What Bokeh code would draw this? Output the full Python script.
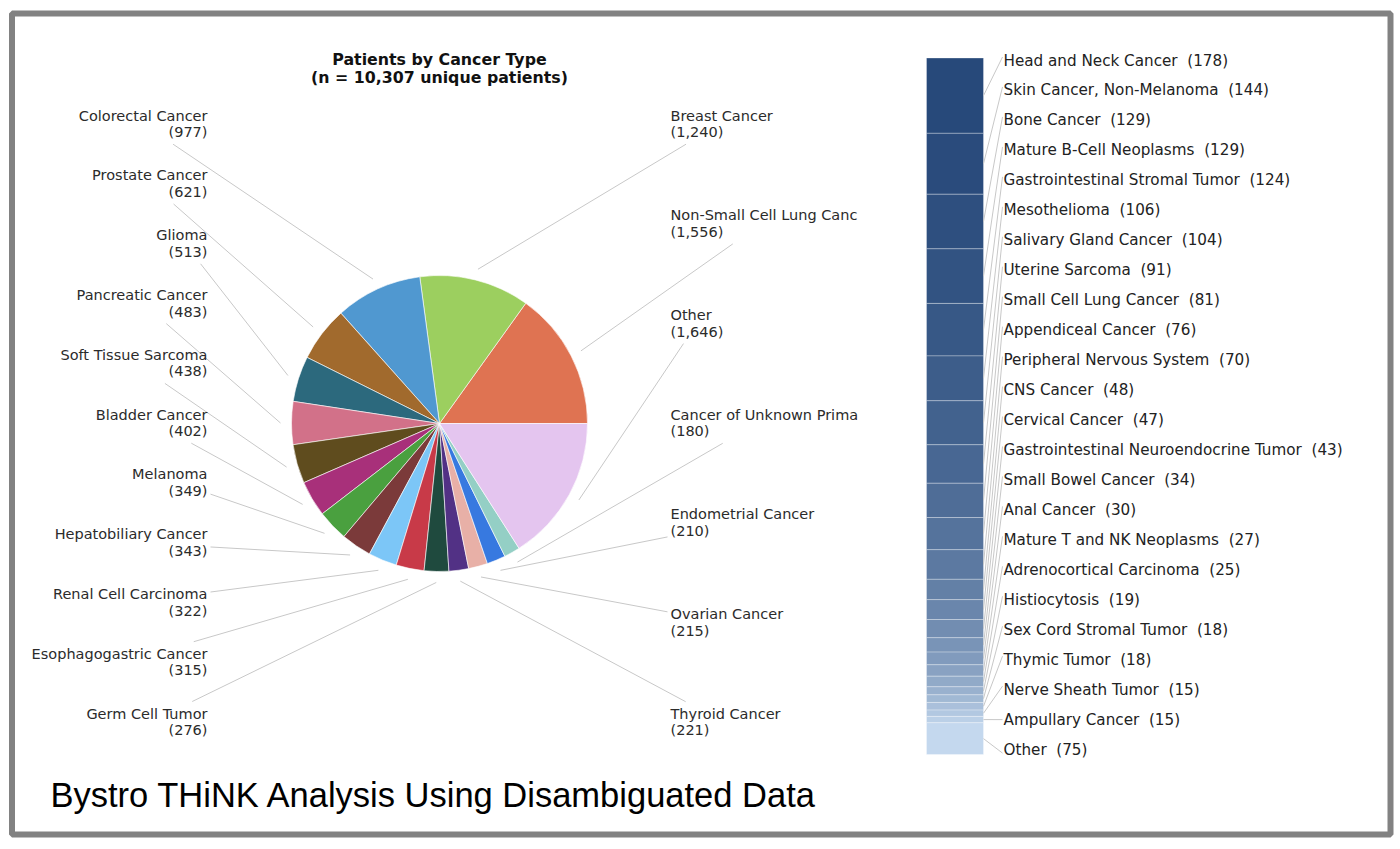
import numpy as np
from bokeh.plotting import figure
from bokeh.models import Range1d, ColumnDataSource
from bokeh.embed import file_html
from bokeh.resources import INLINE
from bokeh.core.properties import value

W, H = 1400, 849

# ---------------- data ----------------
# pie slices, counterclockwise from 3 o'clock
pie_names = ["Non-Small Cell Lung Canc", "Breast Cancer", "Colorectal Cancer", "Prostate Cancer",
             "Glioma", "Pancreatic Cancer", "Soft Tissue Sarcoma", "Bladder Cancer", "Melanoma",
             "Hepatobiliary Cancer", "Renal Cell Carcinoma", "Esophagogastric Cancer",
             "Germ Cell Tumor", "Thyroid Cancer", "Ovarian Cancer", "Endometrial Cancer",
             "Cancer of Unknown Prima", "Other"]
pie_counts = [1556, 1240, 977, 621, 513, 483, 438, 402, 349, 343, 322, 315, 276, 221, 215, 210, 180, 1646]
pie_colors = ["#df7352", "#9ccf5f", "#5098d0", "#a16a2d", "#2c697d", "#d27189", "#5f4c1e",
              "#a8307a", "#4aa03f", "#7b3a3a", "#7cc6f7", "#c83a48", "#1f4a3e", "#523185",
              "#e8b0a7", "#3779e0", "#94cfc5", "#e4c5ef"]

# breakdown of "Other" (top to bottom)
other_names = ["Head and Neck Cancer", "Skin Cancer, Non-Melanoma", "Bone Cancer",
               "Mature B-Cell Neoplasms", "Gastrointestinal Stromal Tumor", "Mesothelioma",
               "Salivary Gland Cancer", "Uterine Sarcoma", "Small Cell Lung Cancer",
               "Appendiceal Cancer", "Peripheral Nervous System", "CNS Cancer", "Cervical Cancer",
               "Gastrointestinal Neuroendocrine Tumor", "Small Bowel Cancer", "Anal Cancer",
               "Mature T and NK Neoplasms", "Adrenocortical Carcinoma", "Histiocytosis",
               "Sex Cord Stromal Tumor", "Thymic Tumor", "Nerve Sheath Tumor", "Ampullary Cancer",
               "Other"]
other_counts = [178, 144, 129, 129, 124, 106, 104, 91, 81, 76, 70, 48, 47, 43, 34, 30, 27, 25,
                19, 18, 18, 15, 15, 75]

title_lines = ["Patients by Cancer Type", "(n = 10,307 unique patients)"]
caption = "Bystro THiNK Analysis Using Disambiguated Data"

# ---------------- figure ----------------
def sy(y):
    return H - y

p = figure(width=W, height=H, x_range=Range1d(0, W), y_range=Range1d(0, H),
           output_backend="svg", toolbar_location=None, min_border=0,
           x_axis_type=None, y_axis_type=None)
p.grid.visible = False
p.outline_line_color = None
p.background_fill_color = "white"
p.border_fill_color = "white"

FONT = value("DejaVu Sans")
FS = value("14.5px")
TXT = "#2b2b2b"
LEAD = "#c8c8c8"

# outer frame
p.quad(left=[11.5], right=[1390], top=[sy(13)], bottom=[sy(834)],
       fill_color=None, line_color="#828282", line_width=6)

# ---------------- pie ----------------
counts = np.array(pie_counts, dtype=float)
cum = np.concatenate([[0], np.cumsum(counts)])
total = cum[-1]
start = 2 * np.pi * cum[:-1] / total
end = 2 * np.pi * cum[1:] / total
mid = (start + end) / 2
CX, CY, R = 439.0, 423.0, 148.0

src = ColumnDataSource(dict(start=start, end=end, color=pie_colors))
p.wedge(x=CX, y=sy(CY), radius=R, radius_units="screen", start_angle="start", end_angle="end",
        fill_color="color", line_color="white", line_width=1, line_alpha=0.6, source=src)

p.text(x=[CX, CX], y=[sy(59), sy(77)], text=title_lines, text_align="center",
       text_baseline="middle", text_font=FONT, text_font_size=value("15.8px"),
       text_font_style="bold", text_color="#111111")

mid_deg = np.degrees(mid)
left_idx = [i for i in range(len(counts)) if 90 < mid_deg[i] < 270]
right_idx = [i for i in range(len(counts)) if not (90 < mid_deg[i] < 270)]
left_idx.sort(key=lambda i: mid_deg[i])
right_idx.sort(key=lambda i: -(mid_deg[i] if mid_deg[i] <= 90 else mid_deg[i] - 360))

CW = 7.6  # approx char width


def clip(px, py, bx0, bx1, by0, by1, pad=3.0):
    cx, cy = (bx0 + bx1) / 2, (by0 + by1) / 2
    bx0 -= pad; bx1 += pad; by0 -= pad; by1 += pad
    dx, dy = cx - px, cy - py
    tx = ((bx1 if dx < 0 else bx0) - px) / dx if dx != 0 else -1e9
    ty = ((by1 if dy < 0 else by0) - py) / dy if dy != 0 else -1e9
    t = max(tx, ty)
    return px + t * dx, py + t * dy


lx0, ly0, lx1, ly1 = [], [], [], []
tx_, ty_, tt_, ta_ = [], [], [], []
R_LEAD = 159.0
for side, idxs, xa, step in (("L", left_idx, 207.0, 59.8), ("R", right_idx, 670.0, 99.7)):
    for k, i in enumerate(idxs):
        ny = 115.0 + step * k
        cy2 = ny + 16.7
        name = pie_names[i]
        cnt = "({:,})".format(pie_counts[i])
        w = CW * max(len(name), len(cnt))
        if side == "L":
            bx0, bx1 = xa - w, xa
        else:
            bx0, bx1 = xa, xa + w
        by0, by1 = ny - 9, cy2 + 9
        px = CX + R_LEAD * np.cos(mid[i])
        py = CY - R_LEAD * np.sin(mid[i])
        ex, ey = clip(px, py, bx0, bx1, by0, by1)
        lx0.append(px); ly0.append(sy(py)); lx1.append(ex); ly1.append(sy(ey))
        for yy, t in ((ny, name), (cy2, cnt)):
            tx_.append(xa); ty_.append(sy(yy)); tt_.append(t)
            ta_.append("right" if side == "L" else "left")

p.segment(x0=lx0, y0=ly0, x1=lx1, y1=ly1, line_color=LEAD, line_width=1)
p.text(x=tx_, y=ty_, text=tt_, text_align=ta_, text_baseline="middle",
       text_font=FONT, text_font_size=FS, text_color=TXT)

# ---------------- stacked bar of "Other" ----------------
BAR_TOP, BAR_BOT = 57.5, 754.0
ocounts = np.array(other_counts, dtype=float)
ototal = ocounts.sum()
ppu = (BAR_BOT - BAR_TOP) / ototal
# extra range: count v sits at screen y = BAR_TOP + v*ppu
p.extra_y_ranges = {"bar": Range1d(start=(H - BAR_TOP) / ppu, end=-BAR_TOP / ppu)}

ocum = np.concatenate([[0], np.cumsum(ocounts)])
n = len(ocounts)
c0 = np.array([0x27, 0x49, 0x7a], dtype=float)
c1 = np.array([0xc4, 0xd8, 0xee], dtype=float)
bar_colors = []
for i in range(n):
    t = (i / (n - 1)) ** 1.3
    c = c0 + (c1 - c0) * t
    bar_colors.append("#%02x%02x%02x" % tuple(int(round(v)) for v in c))

BX0, BX1 = 926.0, 983.0
bsrc = ColumnDataSource(dict(top=ocum[:-1], bottom=ocum[1:], color=bar_colors))
p.quad(left=BX0, right=BX1, top="top", bottom="bottom", y_range_name="bar",
       fill_color="color", line_color="white", line_alpha=0.3, line_width=1, source=bsrc)

# labels + leaders
seg_mid = BAR_TOP + (ocum[:-1] + ocum[1:]) / 2 * ppu
bl_x0, bl_y0, bl_x1, bl_y1 = [], [], [], []
bt_y, bt_t = [], []
for i in range(n):
    ly = 60.0 + 29.96 * i
    d = ly - seg_mid[i]
    off = 0.0 if abs(d) < 2 else 3.5 * np.sign(d)
    bl_x0.append(BX1); bl_y0.append(sy(seg_mid[i]))
    bl_x1.append(1002.0); bl_y1.append(sy(ly + off))
    bt_y.append(sy(ly)); bt_t.append("{}\u00a0\u00a0({})".format(other_names[i], other_counts[i]))

p.segment(x0=bl_x0, y0=bl_y0, x1=bl_x1, y1=bl_y1, line_color=LEAD, line_width=1)
p.text(x=[1003.0] * n, y=bt_y, text=bt_t, text_align="left", text_baseline="middle",
       text_font=FONT, text_font_size=value("15.2px"), text_color="#222222")

# caption
p.text(x=[50], y=[sy(794)], text=[caption], text_align="left", text_baseline="middle",
       text_font=value("Liberation Sans"), text_font_size=value("34.5px"), text_color="black")

open("out.html", "w").write(file_html(p, INLINE))
